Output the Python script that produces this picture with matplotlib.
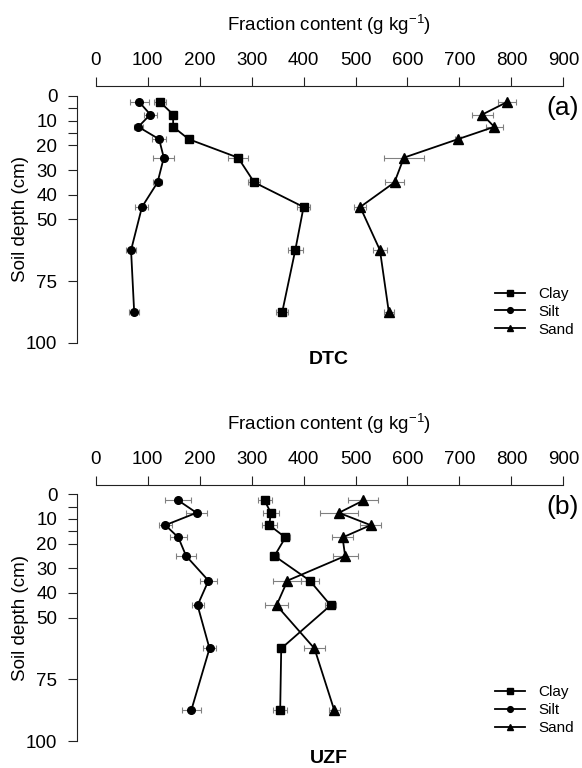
import matplotlib
matplotlib.use('Agg')
import matplotlib.pyplot as plt
import numpy as np

plt.rcParams['font.family'] = ['Liberation Sans', 'DejaVu Sans']
plt.rcParams['mathtext.default'] = 'regular'

# sampling depth (cm), layer mid points
depth = [2.5, 7.5, 12.5, 17.5, 25, 35, 45, 62.5, 87.5]

# DTC site, g/kg with standard errors
dtc_clay    = [124, 149, 149, 179, 274, 305, 400, 384, 359]
dtc_clay_se = [11, 3, 3, 3, 20, 11, 13, 14, 11.5]
dtc_silt    = [84, 105, 82, 122, 131, 119, 89, 68, 74]
dtc_silt_se = [18, 13, 9, 14, 20, 8, 12.5, 10, 9]
dtc_sand    = [791, 744, 767, 697, 593, 575, 509, 547, 564]
dtc_sand_se = [17, 20, 16, 6, 38, 18, 12, 13, 10]

# UZF site
uzf_clay    = [325, 337, 334, 365, 344, 412, 452, 357, 355]
uzf_clay_se = [13.5, 16, 14, 8, 9, 17, 10.5, 4, 13]
uzf_silt    = [159, 194, 134, 159, 174, 217, 196, 219, 184]
uzf_silt_se = [25, 21, 13, 17, 19, 17, 11.5, 13, 18]
uzf_sand    = [515, 468, 529, 475, 480, 369, 348, 421, 459]
uzf_sand_se = [29, 36, 20, 21, 24, 27, 22, 20, 11]

x_ticks = [0, 100, 200, 300, 400, 500, 600, 700, 800, 900]
y_ticks = [0, 5, 10, 15, 20, 30, 40, 50, 75, 100]
y_ticklabels = ['0', '', '10', '', '20', '30', '40', '50', '75', '100']

W, H = 582, 768
fig = plt.figure(figsize=(W/100, H/100), dpi=100)

def fx(x):
	return x / W

def fy(y):
	return 1 - y / H

_fs = 13.5

def panel(top_px, y0_px, series, tag, site):
	# top_px: pixel row of the top axis line, y0_px: pixel row of depth 0
	ppu = 246.7 / 100.	# px per cm
	bot_px = y0_px + 105 * ppu
	ax = fig.add_axes([fx(76.7), fy(bot_px), (582.4 - 76.7)/W, (bot_px - top_px)/H])
	ax.set_xlim(-36.6, 936.6)
	ax.set_ylim(105, -(y0_px - top_px)/ppu)

	for (vals, se, mk, ms, lab) in series:
		ax.errorbar(vals, depth, xerr=se, fmt='none', ecolor='#808080',
			elinewidth=0.8, capsize=2.5, capthick=0.8, zorder=2)
		ax.plot(vals, depth, '-', color='k', marker=mk, ms=ms, lw=1.3, zorder=3, label=lab)

	ax.spines['bottom'].set_visible(False)
	ax.spines['right'].set_visible(False)
	ax.spines['top'].set_bounds(0, 900)
	ax.spines['left'].set_bounds(0, 100)
	for s in ['top', 'left']:
		ax.spines[s].set_linewidth(0.8)
		ax.spines[s].set_color('#222222')

	ax.xaxis.tick_top()
	ax.set_xticks(x_ticks)
	ax.set_xticklabels([str(t) for t in x_ticks])
	ax.set_yticks(y_ticks)
	ax.set_yticklabels(y_ticklabels)
	ax.tick_params(axis='x', direction='out', length=6.5, width=0.8, pad=6, labelsize=_fs, color='#222222')
	ax.tick_params(axis='y', direction='out', length=6.5, width=0.8, pad=7.5, labelsize=_fs, color='#222222')

	fig.text(fx(329), fy(top_px - 61), 'Fraction content (g kg$^{-1}$)',
		ha='center', va='center', fontsize=_fs)
	fig.text(fx(21), fy(y0_px + 123.3), 'Soil depth (cm)', rotation=90,
		ha='center', va='center', fontsize=_fs)
	fig.text(fx(579), fy(y0_px + 12.5), tag, ha='right', va='center', fontsize=19)
	fig.text(fx(329), fy(y0_px + 264), site, ha='center', va='center',
		fontsize=14, fontweight='bold')

	ax.legend(loc='upper left', bbox_to_anchor=(fx(495), fy(y0_px + 191)),
		bbox_transform=fig.transFigure, frameon=False, fontsize=11,
		handlelength=1.95, handletextpad=0.9, labelspacing=0.25,
		borderpad=0, borderaxespad=0, markerscale=0.75)
	return ax

panel(86.0, 96.0, [(dtc_clay, dtc_clay_se, 's', 6, 'Clay'),
		(dtc_silt, dtc_silt_se, 'o', 5.5, 'Silt'),
		(dtc_sand, dtc_sand_se, '^', 6.5, 'Sand')], '(a)', 'DTC')
panel(485.0, 494.3, [(uzf_clay, uzf_clay_se, 's', 6, 'Clay'),
		(uzf_silt, uzf_silt_se, 'o', 5.5, 'Silt'),
		(uzf_sand, uzf_sand_se, '^', 6.5, 'Sand')], '(b)', 'UZF')

fig.savefig('out.png', dpi=100)
